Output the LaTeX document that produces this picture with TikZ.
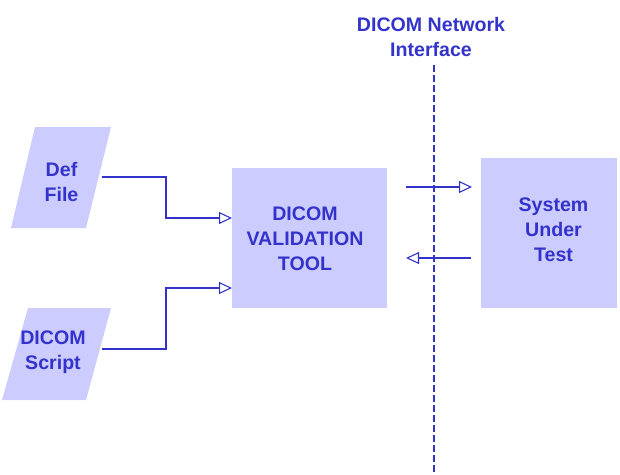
\documentclass[tikz,border=0pt]{standalone}
\usepackage{fontspec}
\setmainfont{Liberation Sans}
\usetikzlibrary{arrows.meta}
\definecolor{boxfill}{HTML}{CCCCFF}
\definecolor{ink}{HTML}{3333CC}
\tikzset{
  lbl/.style={text=ink, font=\fontsize{19.6}{25}\selectfont\bfseries, align=center, inner sep=0pt},
  boxshape/.style={fill=boxfill, draw=none, inner sep=0pt, anchor=north west},
  conn/.style={draw=ink, line width=1.2pt, -{Triangle[open, length=13pt, width=12pt, fill=white, line width=1.1pt]}},
  netline/.style={draw=ink, line width=1.8pt, dash pattern=on 7pt off 3pt}
}
\begin{document}
\begin{tikzpicture}[x=1pt, y=-1pt]
\useasboundingbox (0,0) rectangle (620,474);
% parallelograms
\fill[boxfill] (35,127) -- (111,127) -- (86,228) -- (11,228) -- cycle;
\fill[boxfill] (28,308) -- (111,308) -- (86,400) -- (2,400) -- cycle;
\node[lbl] (deffile) at (61.5,181.5) {Def\\File};
\node[lbl] (script) at (53,352) {DICOM\\Script};
% rectangles
\node[boxshape, minimum width=155pt, minimum height=140pt] (vtool) at (232,168) {};
\node[boxshape, minimum width=136pt, minimum height=150pt] (sut) at (481,158) {};
\node[lbl] (vtooltxt) at (305,238.5) {DICOM\\VALIDATION\\TOOL};
\node[lbl] (suttxt) at (553.5,230) {System\\Under\\Test};
% title and network line
\node[lbl] (title) at (431,36.5) {DICOM Network\\Interface};
\coordinate (nettop) at (434,65);
\coordinate (netbot) at (434,474);
\draw[netline] (nettop) -- (netbot);
% connectors
\coordinate (defout) at (102,177);
\coordinate (defin) at (232,218);
\coordinate (scrout) at (102,349);
\coordinate (scrin) at (232,288);
\draw[conn] (defout) -- (166,177) -- (166,218) -- (defin);
\draw[conn] (scrout) -- (166,349) -- (166,288) -- (scrin);
\coordinate (rA) at (406,187);
\coordinate (rB) at (472,187);
\coordinate (lA) at (471,258);
\coordinate (lB) at (406,258);
\draw[conn] (rA) -- (rB);
\draw[conn] (lA) -- (lB);
\end{tikzpicture}
\end{document}
